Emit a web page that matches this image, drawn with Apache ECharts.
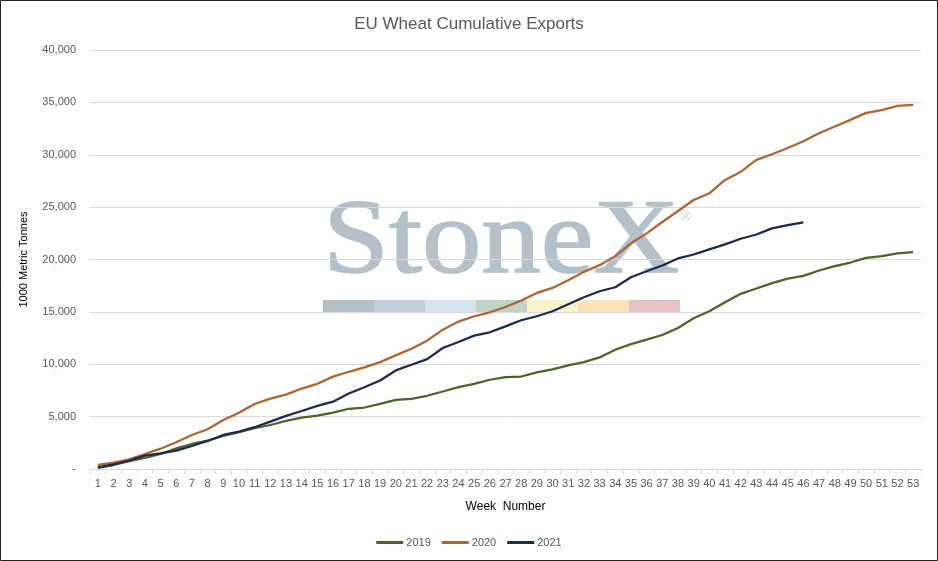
<!DOCTYPE html>
<html lang="en">
<head>
    <meta charset="UTF-8">
    <title>EU Wheat Cumulative Exports</title>
    <script type="text/javascript" src="https://cdn.jsdelivr.net/npm/echarts@6/dist/echarts.min.js"></script>
    <style>
        body{margin:0;background:#fff;}
    </style>
</head>

<body>
<div id="chartmain" style="width:938px;height:561px"></div>
<script>
    // weeks 1..53
    var weeks=[];
    for(var i=1;i<=53;i++){
        weeks.push(String(i));
    }

    // cumulative exports, 1000 metric tonnes
    var exports2019=[100,380,740,1050,1430,1970,2390,2700,3150,3510,
        3890,4200,4590,4900,5100,5380,5750,5870,6220,6600,
        6700,6990,7400,7820,8130,8520,8770,8830,9220,9510,
        9890,10210,10650,11390,11920,12350,12790,13460,14390,15060,
        15920,16720,17230,17740,18180,18440,18950,19360,19710,20160,
        20320,20580,20700];
    var exports2020=[400,600,930,1430,1940,2550,3250,3800,4680,5380,
        6210,6720,7100,7680,8130,8820,9280,9700,10200,10850,
        11480,12250,13300,14070,14580,14960,15470,16080,16810,17290,
        18020,18820,19460,20320,21550,22490,23580,24630,25680,26320,
        27600,28360,29510,30050,30650,31290,32060,32700,33330,34000,
        34260,34670,34770];
    var exports2021=[160,450,800,1270,1500,1750,2200,2680,3250,3570,
        3990,4520,5070,5540,6020,6430,7200,7810,8450,9410,
        9950,10490,11550,12120,12730,13050,13620,14200,14580,15060,
        15730,16400,16970,17350,18300,18880,19430,20100,20480,20960,
        21440,21980,22390,22970,23290,23540];

    var seriesNames=['2019','2020','2021'];
    var seriesColors=['#4f6228','#b0642f','#1d2a4e'];
    var seriesData=[exports2019,exports2020,exports2021];

    // watermark band colours
    var bandColors=['#b5c0c8','#c2cddc','#d7e3ee','#bfd4c7','#f6f2cc','#fae2b5','#e8c2c3'];

    var graphics=[
        {
            type:'rect',
            z:100,
            shape:{x:0.5,y:0.5,width:937,height:560},
            style:{fill:'none',stroke:'#222',lineWidth:1},
            silent:true
        },
        {
            type:'text',
            z:-10,
            x:323,
            y:191,
            scaleX:1.12,
            style:{text:'StoneX',font:'106px "Liberation Serif"',fill:'#b4c1ca',stroke:'#b4c1ca',lineWidth:1.5},
            silent:true
        },
        {
            type:'text',
            z:-10,
            x:681,
            y:211,
            style:{text:'\u00AE',font:'13px "Liberation Sans"',fill:'#c6d0d8'},
            silent:true
        }
    ];
    for(var b=0;b<bandColors.length;b++){
        graphics.push({
            type:'rect',
            z:-10,
            shape:{x:323+b*51,y:300,width:51,height:12},
            style:{fill:bandColors[b]},
            silent:true
        });
    }

    var series=[];
    for(var s=0;s<seriesNames.length;s++){
        series.push({
            name:seriesNames[s],
            type:'line',
            data:seriesData[s],
            showSymbol:false,
            symbol:'none',
            color:seriesColors[s],
            lineStyle:{width:2.25,color:seriesColors[s]},
            z:5
        });
    }

    var option = {
        animation:false,
        backgroundColor:'#fff',
        textStyle:{fontFamily:'"Liberation Sans", Arial, sans-serif'},
        title : {
            text: 'EU Wheat Cumulative Exports',
            left:'center',
            top:11,
            textStyle:{color:'#595959',fontSize:17,fontWeight:'normal'}
        },
        legend: {
            bottom:8,
            left:'center',
            icon:'rect',
            itemWidth:27,
            itemHeight:3,
            itemGap:11,
            textStyle:{color:'#595959',fontSize:11,padding:[0,0,0,-2]},
            data:seriesNames
        },
        grid:{
            left:90,
            right:17,
            top:50,
            bottom:92
        },
        xAxis : [
            {
                type : 'category',
                data : weeks,
                boundaryGap:true,
                name:'Week  Number',
                nameLocation:'middle',
                nameGap:32,
                nameTextStyle:{color:'#000',fontSize:12},
                axisLine:{lineStyle:{color:'#d9d9d9'}},
                axisTick:{show:true,length:5,interval:0,lineStyle:{color:'#d9d9d9'}},
                axisLabel:{interval:0,color:'#595959',fontSize:11,margin:9}
            }
        ],
        yAxis : [
            {
                type : 'value',
                min:0,
                max:40000,
                interval:5000,
                name:'1000 Metric Tonnes',
                nameLocation:'middle',
                nameGap:61,
                nameTextStyle:{color:'#000',fontSize:11},
                axisLine:{show:false},
                axisTick:{show:false},
                splitLine:{lineStyle:{color:'#d9d9d9'}},
                axisLabel:{
                    color:'#595959',
                    fontSize:11,
                    margin:14,
                    formatter:function(v){
                        if(v===0){return '-';}
                        return v.toLocaleString('en-US');
                    }
                }
            }
        ],
        graphic:graphics,
        series : series
    };

    var myChart=echarts.init(document.getElementById('chartmain'));
    myChart.setOption(option);
</script>
</body>
</html>
